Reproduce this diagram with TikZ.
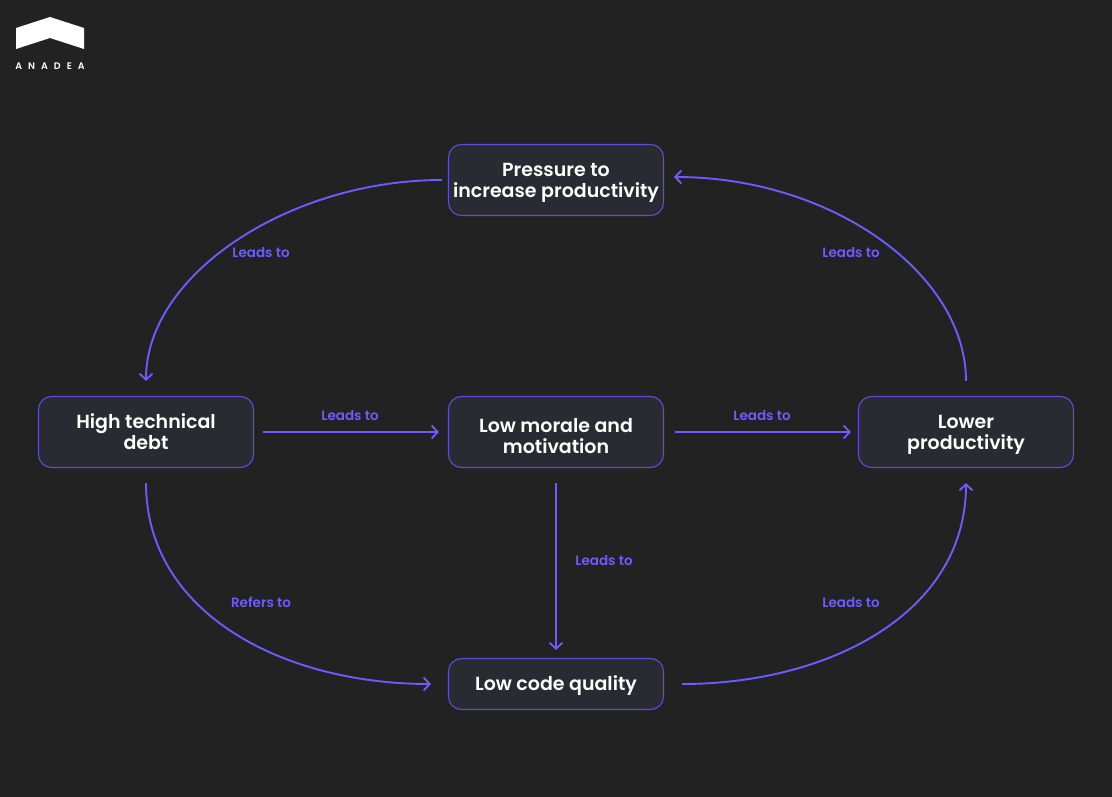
\documentclass[tikz,border=0pt]{standalone}
\usepackage{fontspec}
\setmainfont{Poppins}[BoldFont={Poppins SemiBold}]
\usepackage{xcolor}
\usetikzlibrary{arrows.meta}
\definecolor{bgdark}{HTML}{222222}
\definecolor{boxdark}{HTML}{2A2A33}
\definecolor{violet}{HTML}{6C5CFF}
\newcommand{\twolines}[3][19pt]{\rule{0pt}{#1}#2\\#3\rule[-5pt]{0pt}{5pt}}
\tikzset{
    stepbox/.style={draw=violet!85!black, fill=boxdark, line width=1.1pt, rounded corners=13pt, minimum width=215pt, align=center, text=white, inner sep=0pt, font=\fontsize{19}{21}\selectfont\bfseries},
    tall/.style={minimum height=71pt},
    flat/.style={minimum height=51pt},
    leadline/.style={draw=violet, line width=1.9pt, -{Straight Barb[length=6pt,width=13pt]}},
    leadtext/.style={text=violet, inner sep=0pt, font=\fontsize{13.5}{15}\selectfont\bfseries}
}
\begin{document}
\begin{tikzpicture}[x=1pt,y=-1pt]
    \fill[bgdark] (0,0) rectangle (1112,797);
    \useasboundingbox (0,0) rectangle (1112,797);
    \fill[white] (16,28) -- (50,17) -- (84,28) -- (84,49) -- (50,38) -- (16,49) -- cycle;
    \node[text=white, inner sep=0pt, font=\fontsize{9.5}{11}\selectfont\bfseries] (brand) at (50,66.5) {A\hspace{6pt}N\hspace{6pt}A\hspace{6pt}D\hspace{6pt}E\hspace{6pt}A};

    \node[stepbox, tall] (pressure) at (556,180) {\twolines{Pressure to}{increase productivity}};
    \node[stepbox, tall] (debt) at (146,432) {\twolines{High technical}{debt}};
    \node[stepbox, tall] (morale) at (556,432) {\twolines[27pt]{Low morale and}{motivation}};
    \node[stepbox, tall] (lower) at (966,432) {\twolines{Lower}{productivity}};
    \node[stepbox, flat] (quality) at (556,684) {\rule{0pt}{18pt}Low code quality};
    \coordinate (pressurein) at (674,177);

    \draw[leadline, shorten <=6pt, shorten >=15pt] (pressure.west) .. controls +(-158,0) and +(0,-122) .. (debt.north);
    \draw[leadline, shorten <=15pt] (lower.north) .. controls +(0,-122) and +(158,0) .. (pressurein);
    \draw[leadline, shorten <=9pt, shorten >=9pt] (debt.east) -- (morale.west);
    \draw[leadline, shorten <=11pt, shorten >=7pt] (morale.east) -- (lower.west);
    \draw[leadline, shorten <=15pt, shorten >=8pt] (morale.south) -- (quality.north);
    \draw[leadline, shorten <=15pt, shorten >=17pt] (debt.south) .. controls +(0,145) and +(-165,0) .. (quality.west);
    \draw[leadline, shorten <=18pt, shorten >=15pt] (quality.east) .. controls +(165,0) and +(0,145) .. (lower.south);

    \node[leadtext] (lead1) at (261,252.5) {Leads to};
    \node[leadtext] (lead2) at (851,252.5) {Leads to};
    \node[leadtext] (lead3) at (350,415.5) {Leads to};
    \node[leadtext] (lead4) at (762,415.5) {Leads to};
    \node[leadtext] (lead5) at (604,560.5) {Leads to};
    \node[leadtext] (refer) at (261,602.5) {Refers to};
    \node[leadtext] (lead6) at (851,602.5) {Leads to};
\end{tikzpicture}
\end{document}
